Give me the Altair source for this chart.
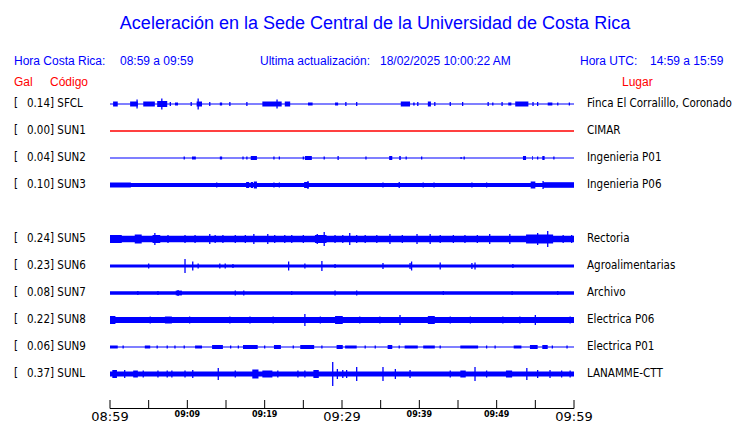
import altair as alt
import pandas as pd

TITLE = "Aceleración en la Sede Central de la Universidad de Costa Rica"
CODES = ["SFCL", "SUN1", "SUN2", "SUN3", "SUN5", "SUN6", "SUN7", "SUN8", "SUN9", "SUNL"]
ROWS = [0, 1, 2, 3, 5, 6, 7, 8, 9, 10]
PGA = ["0.14", "0.00", "0.04", "0.10", "0.24", "0.23", "0.08", "0.22", "0.06", "0.37"]
PLACES = ["Finca El Corralillo, Coronado", "CIMAR", "Ingenieria P01", "Ingenieria P06",
          "Rectoria", "Agroalimentarias", "Archivo", "Electrica P06", "Electrica P01", "LANAMME-CTT"]
ACTIVE = [True, False, True, True, True, True, True, True, True, True]
# background (noise) half-amplitude of each trace, display units
BASE_AMP = [0.6, 0.75, 0.6, 2.0, 3.2, 1.6, 1.8, 3.0, 0.6, 2.6]

# bursts: (start minute, end minute, half-amplitude)
BURSTS = {
    "SFCL": [(0.4, 1.0, 2.5), (2.6, 3.6, 2.5), (4.3, 5.8, 2.5), (6.1, 7.4, 3), (8.4, 8.8, 1.5),
             (11.2, 11.9, 2.5), (14.2, 14.5, 1.5), (19.7, 22.2, 2.5), (22.6, 23.3, 2.5),
             (25.6, 26.2, 1.5), (29.1, 29.5, 1.5), (37.6, 38.8, 2.5), (39.2, 39.4, 1.5),
             (41.1, 41.5, 2.5), (51.5, 51.9, 1.5), (52.4, 54.1, 2.5), (56.6, 57.2, 1.5)],
    "SUN2": [(10.6, 11.1, 1.5), (14.2, 14.5, 1.5), (18.2, 19.0, 2), (25.2, 26.1, 2), (36.1, 36.5, 2),
             (37.4, 37.6, 2), (53.4, 53.8, 2), (54.6, 54.7, 2), (55.9, 56.2, 2)],
    "SUN3": [(0.0, 2.7, 2.5), (17.6, 18.0, 3), (18.2, 18.5, 3), (18.6, 19.0, 3.5), (25.1, 25.7, 3),
             (54.4, 55.0, 3.5), (56.0, 60.0, 2.8)],
    "SUN5": [(0.0, 1.5, 4), (3.2, 4.1, 4.5), (5.5, 6.5, 4), (26.5, 28.0, 4), (53.8, 57.3, 4.5)],
    "SUN7": [(8.5, 9.3, 2.4)],
    "SUN8": [(0.0, 0.7, 4), (7.1, 8.0, 3.5), (29.1, 30.1, 4), (41.1, 42.0, 4)],
    "SUN9": [(0.0, 1.0, 1.5), (4.5, 5.2, 1.5), (11.0, 11.9, 1.5), (13.2, 14.6, 2), (17.2, 19.1, 2),
             (21.2, 22.1, 2), (24.6, 26.4, 2), (29.3, 30.1, 2), (30.4, 31.9, 1.5), (35.9, 36.5, 2),
             (38.1, 39.8, 1.5), (40.5, 42.0, 1.5), (45.3, 47.6, 1.5), (52.2, 53.2, 1.5),
             (54.3, 55.3, 2), (55.9, 56.6, 2)],
    "SUNL": [(0.3, 0.9, 4), (3.0, 3.6, 3.5), (18.4, 19.2, 4.5), (19.7, 21.0, 3.5), (26.3, 27.0, 4),
             (45.3, 46.0, 3.5), (51.2, 52.0, 3.5)],
}

# spikes: (minute, half-amplitude)
SPIKES = {
    "SFCL": [(3.5, 4.5), (6.7, 5.5), (7.8, 2), (10.5, 2), (11.4, 5.5), (12.9, 2), (15.5, 2), (17.7, 2),
             (21.6, 4.5), (30.5, 2), (31.9, 2), (39.8, 2), (42.0, 2), (44.0, 2), (45.6, 2), (48.9, 2),
             (49.5, 1.5), (50.7, 2), (54.7, 2), (55.3, 2), (57.9, 1.5), (59.4, 1.5)],
    "SUN2": [(9.6, 1.5), (17.2, 1.5), (17.7, 1.5), (21.2, 1.5), (21.9, 1.5), (25.0, 1.5), (27.7, 1.5),
             (29.5, 2), (33.1, 1.5), (38.3, 1.5), (40.3, 1.5), (45.4, 1), (45.8, 1.5), (55.3, 1.5),
             (57.4, 1.5)],
    "SUN3": [(13.8, 2.5), (21.2, 2.5), (21.9, 2.5), (25.6, 4), (35.3, 2.5), (37.4, 3), (40.5, 2.5),
             (41.9, 2.5), (46.8, 2.5), (48.7, 2.5), (56.0, 4)],
    "SUN5": [(0.3, 4), (0.9, 4), (1.4, 4), (5.8, 6), (6.2, 4), (7.5, 4), (9.7, 4), (11.0, 4), (12.9, 5),
             (13.6, 4), (14.6, 4), (16.2, 4), (17.5, 4), (18.6, 5), (20.4, 5), (21.3, 4), (22.6, 4),
             (23.5, 4), (25.0, 4), (26.8, 5), (27.7, 7), (29.1, 4), (30.1, 4), (31.0, 6), (31.9, 4),
             (33.0, 4), (34.5, 4), (36.2, 5), (37.8, 4), (39.7, 5), (41.4, 5), (42.7, 4), (44.4, 4),
             (45.9, 4), (47.5, 4), (49.1, 5), (51.7, 5), (55.3, 6), (56.6, 8), (58.6, 4), (59.7, 4)],
    "SUN6": [(5.0, 2.5), (9.7, 7), (10.7, 4.5), (11.4, 2.5), (14.2, 2.5), (14.9, 2.5), (15.9, 2),
             (23.1, 4.5), (25.2, 2.5), (27.4, 5), (29.1, 2), (35.3, 3), (38.8, 3), (39.0, 4.5),
             (42.7, 3.5), (46.8, 3), (47.2, 3.5), (52.1, 2)],
    "SUN7": [(3.6, 2), (6.2, 2), (8.8, 3), (16.2, 2.5), (17.3, 2.5), (23.5, 2), (29.1, 2.5), (31.9, 2.5),
             (43.1, 2), (52.0, 2), (57.9, 2)],
    "SUN8": [(5.2, 3.5), (10.3, 3.5), (15.5, 3.5), (18.1, 3.5), (21.1, 3.5), (25.2, 6), (27.2, 3.5),
             (32.3, 3.5), (34.9, 3.5), (37.5, 5), (44.0, 3.5), (46.6, 3.5), (50.8, 3.5), (53.0, 3.5),
             (55.0, 5), (59.5, 3.5)],
    "SUN9": [(1.7, 1.5), (6.1, 1.5), (7.4, 1.5), (8.4, 1.5), (9.6, 1.5), (15.6, 1.5), (16.6, 1.5),
             (20.0, 1.5), (23.7, 1.5), (27.4, 1.5), (33.0, 1.5), (34.3, 1.5), (37.4, 1.5), (42.7, 1.5),
             (48.7, 1.5), (49.8, 1.5), (57.2, 1.5), (59.1, 1.5)],
    "SUNL": [(1.9, 4), (4.3, 3.5), (6.2, 3.5), (7.4, 3.5), (8.0, 3.5), (9.7, 3.5), (10.7, 4), (14.0, 6),
             (16.2, 3.5), (21.7, 3.5), (24.3, 3.5), (25.2, 3.5), (28.8, 12), (29.4, 5), (30.1, 4),
             (30.6, 4), (31.9, 7), (35.3, 7), (36.9, 5), (38.8, 4), (44.0, 3.5), (47.2, 7), (48.7, 3.5),
             (53.9, 6), (55.3, 4), (56.9, 4), (58.4, 3.5), (59.5, 3.5)],
}

TICK_MIN = [0, 5, 10, 15, 20, 25, 30, 35, 40, 45, 50, 55, 60]
LABEL_MIN = [0, 10, 20, 30, 40, 50, 60]
LABELS = ["08:59", "09:09", "09:19", "09:29", "09:39", "09:49", "09:59"]
LABEL_BIG = [True, False, False, True, False, False, True]

BLUE = "#0000ff"
RED = "#ff0000"
ROW_PX = 27.0
LABEL_FONT = "DejaVu Sans Condensed, DejaVu Sans"
HEAD_FONT = "Liberation Sans"

X_SCALE = alt.Scale(domain=[0, 60], range=[102, 566])
Y_SCALE = alt.Scale(domain=[0, 10], range=[96, 366])

rects, spikes = [], []
for i, code in enumerate(CODES):
    r = ROWS[i]
    col = BLUE if ACTIVE[i] else RED
    rects.append(dict(t0=0, t1=60, y=r - BASE_AMP[i] / ROW_PX, y2=r + BASE_AMP[i] / ROW_PX, c=col))
    for a, b, amp in BURSTS.get(code, []):
        rects.append(dict(t0=a, t1=b, y=r - amp / ROW_PX, y2=r + amp / ROW_PX, c=col))
    for t, amp in SPIKES.get(code, []):
        spikes.append(dict(t=t, y=r - amp / ROW_PX, y2=r + amp / ROW_PX, c=col))
df_rect = pd.DataFrame(rects)
df_spike = pd.DataFrame(spikes)

df_rows = pd.DataFrame({
    "row": ROWS,
    "lab": [f"{p}] {c}" for p, c in zip(PGA, CODES)],
    "place": PLACES,
})

rect_layer = alt.Chart(df_rect).mark_rect().encode(
    x=alt.X("t0:Q", scale=X_SCALE, axis=None), x2="t1:Q",
    y=alt.Y("y:Q", scale=Y_SCALE, axis=None), y2="y2:Q",
    color=alt.Color("c:N", scale=None),
)
spike_layer = alt.Chart(df_spike).mark_rule(strokeWidth=1.3).encode(
    x=alt.X("t:Q", scale=X_SCALE, axis=None),
    y=alt.Y("y:Q", scale=Y_SCALE, axis=None), y2="y2:Q",
    color=alt.Color("c:N", scale=None),
)

row_base = alt.Chart(df_rows).encode(y=alt.Y("row:Q", scale=Y_SCALE, axis=None))
bracket = row_base.mark_text(text="[", align="left", baseline="middle", font=LABEL_FONT,
                             fontSize=11.5, color="black").encode(x=alt.value(6))
codes_t = row_base.mark_text(align="left", baseline="middle", font=LABEL_FONT,
                             fontSize=11.5, color="black").encode(x=alt.value(19), text="lab:N")
places_t = row_base.mark_text(align="left", baseline="middle", font=LABEL_FONT,
                              fontSize=11.5, color="black").encode(x=alt.value(579), text="place:N")

df_ticks = pd.DataFrame({"m": TICK_MIN})
axis_line = alt.Chart(df_ticks).mark_rule(color="black", strokeWidth=1).encode(
    x=alt.X("min(m):Q", scale=X_SCALE, axis=None), x2="max(m):Q", y=alt.value(400.5))
ticks = alt.Chart(df_ticks).mark_rule(color="black", strokeWidth=1).encode(
    x=alt.X("m:Q", scale=X_SCALE, axis=None), y=alt.value(392), y2=alt.value(400.5))

df_lab = pd.DataFrame({"m": LABEL_MIN, "lab": LABELS, "big": LABEL_BIG})
big_labels = alt.Chart(df_lab).transform_filter("datum.big").mark_text(
    align="center", baseline="middle", font="DejaVu Sans", fontSize=13, color="black"
).encode(x=alt.X("m:Q", scale=X_SCALE, axis=None), y=alt.value(409), text="lab:N")
small_labels = alt.Chart(df_lab).transform_filter("!datum.big").mark_text(
    align="center", baseline="middle", font="DejaVu Sans", fontSize=8, fontWeight="bold",
    color="black"
).encode(x=alt.X("m:Q", scale=X_SCALE, axis=None), y=alt.value(407), text="lab:N")

one = pd.DataFrame({"k": [0]})


def txt(s, x, y, size=12, color=BLUE, align="left"):
    return alt.Chart(one).mark_text(
        text=s, align=align, baseline="middle", font=HEAD_FONT, fontSize=size, color=color
    ).encode(x=alt.value(x), y=alt.value(y))


headers = [
    txt(TITLE, 367, 15.5, size=18, align="center"),
    txt("Hora Costa Rica:", 6, 53),
    txt("08:59 a 09:59", 112, 53),
    txt("Ultima actualización:", 252, 53),
    txt("18/02/2025 10:00:22 AM", 372, 53),
    txt("Hora UTC:", 572, 53),
    txt("14:59 a 15:59", 642, 53),
    txt("Gal", 6, 73.5, color=RED),
    txt("Código", 42, 73.5, color=RED),
    txt("Lugar", 614, 73.5, color=RED),
]

chart = alt.layer(
    rect_layer, spike_layer, bracket, codes_t, places_t,
    axis_line, ticks, big_labels, small_labels, *headers
).properties(
    width=724, height=415, padding=0,
    autosize=alt.AutoSizeParams(type="none"),
).configure_view(stroke=None)

chart.save("out.html", embed_options={"renderer": "svg", "actions": False})
